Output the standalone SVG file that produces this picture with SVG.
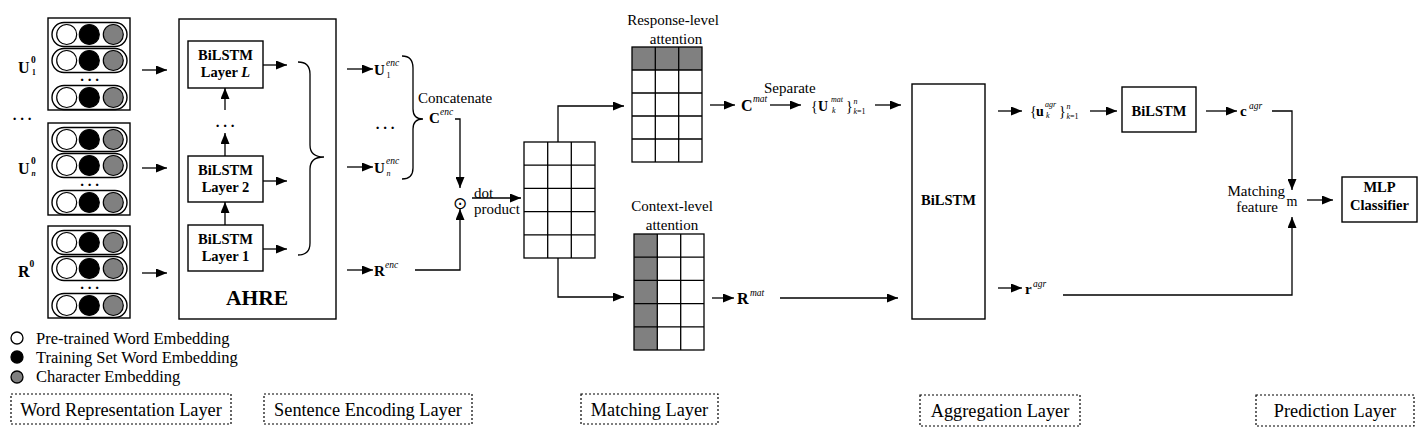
<svg xmlns="http://www.w3.org/2000/svg" width="1426" height="432" viewBox="0 0 1426 432">
<defs>
<marker id="ah" markerUnits="userSpaceOnUse" markerWidth="11" markerHeight="9" refX="11" refY="4.5" orient="auto">
<path d="M0,0 L11,4.5 L0,9 z" fill="#000"/>
</marker>
<g id="pill">
<rect x="-37.5" y="-12" width="75" height="24" rx="12" fill="#fff" stroke="#000" stroke-width="1.4"/>
<circle cx="-22.8" cy="0" r="10" fill="#fff" stroke="#000" stroke-width="1.2"/>
<circle cx="-0.2" cy="0" r="10" fill="#000" stroke="#000" stroke-width="1.2"/>
<circle cx="23.8" cy="0" r="10" fill="#808080" stroke="#000" stroke-width="1.2"/>
</g>
<g id="wblock">
<rect x="0" y="0" width="82" height="92" fill="#fff" stroke="#000" stroke-width="1.4"/>
<use href="#pill" x="41.5" y="16.5"/>
<use href="#pill" x="41.5" y="42.5"/>
<text x="41.5" y="63" class="dots">. . .</text>
<use href="#pill" x="41.5" y="79.5"/>
</g>
</defs>
<style>
text{font-family:"Liberation Serif","Times New Roman",serif;fill:#000}
.t{font-size:15px}
.b{font-size:15px;font-weight:bold}
.bc{font-size:14.5px;font-weight:bold;text-anchor:middle}
.c{text-anchor:middle}
.lg{font-size:16.5px}
.ly{font-size:18.3px;text-anchor:middle}
.dots{font-size:15px;font-weight:bold;text-anchor:middle}
.sup{font-size:9.5px;font-style:italic}
.sub{font-size:8px}
.box{fill:#fff;stroke:#000;stroke-width:1.4}
.ln{fill:none;stroke:#000;stroke-width:1.3}
.ar{fill:none;stroke:#000;stroke-width:1.3;marker-end:url(#ah)}
.grid{fill:none;stroke:#000;stroke-width:1.3}
.dash{fill:none;stroke:#000;stroke-width:1.2;stroke-dasharray:2 2}
</style>
<rect width="1426" height="432" fill="#fff"/>

<!-- Word representation inputs -->
<g id="input-u1">
<use href="#wblock" x="48" y="18"/>
<text x="18" y="73" font-size="16" font-weight="bold">U</text>
<text x="31" y="63" font-size="9.5" font-weight="bold">0</text>
<text x="32" y="75" font-size="7.5" font-weight="bold">1</text>
</g>
<text x="22" y="120" class="dots">. . .</text>
<g id="input-un">
<use href="#wblock" x="48" y="123"/>
<text x="18" y="174" font-size="16" font-weight="bold">U</text>
<text x="31" y="164" font-size="9.5" font-weight="bold">0</text>
<text x="31.5" y="176" font-size="7.5" font-style="italic" font-weight="bold">n</text>
</g>
<g id="input-r">
<use href="#wblock" x="48" y="226"/>
<text x="18" y="277" font-size="16" font-weight="bold">R</text>
<text x="29.5" y="267" font-size="9.5" font-weight="bold">0</text>
</g>

<!-- AHRE -->
<g id="ahre">
<rect class="box" x="179" y="19" width="157" height="300"/>
<text x="257" y="305" font-size="21.5" font-weight="bold" text-anchor="middle">AHRE</text>
</g>
<g id="bilstm-L">
<rect class="box" x="188" y="41" width="75" height="47"/>
<text class="bc" x="225.5" y="60">BiLSTM</text>
<text class="bc" x="225.5" y="77">Layer <tspan font-style="italic">L</tspan></text>
</g>
<g id="bilstm-2">
<rect class="box" x="188" y="156" width="75" height="46"/>
<text class="bc" x="225.5" y="175">BiLSTM</text>
<text class="bc" x="225.5" y="192">Layer 2</text>
</g>
<g id="bilstm-1">
<rect class="box" x="188" y="225" width="75" height="46"/>
<text class="bc" x="225.5" y="244">BiLSTM</text>
<text class="bc" x="225.5" y="261">Layer 1</text>
</g>
<text x="225" y="127" class="dots">. . .</text>

<!-- encoding labels -->
<g id="u1-enc">
<text x="374" y="75" class="b">U</text>
<text x="386" y="66" class="sup">enc</text>
<text x="386.5" y="78" class="sub">1</text>
</g>
<text x="385" y="129" class="dots">. . .</text>
<g id="un-enc">
<text x="374" y="173" class="b">U</text>
<text x="386" y="164" class="sup">enc</text>
<text x="386.5" y="176" class="sub" font-style="italic">n</text>
</g>
<g id="r-enc">
<text x="374" y="276" class="b">R</text>
<text x="385" y="268" class="sup">enc</text>
</g>
<g id="c-enc">
<text x="418" y="103" class="t">Concatenate</text>
<text x="429" y="123" class="b">C</text>
<text x="440" y="115" class="sup">enc</text>
</g>
<g id="dot-product">
<text x="460" y="208.5" font-family="DejaVu Sans" font-size="17" text-anchor="middle" style="font-family:'DejaVu Sans',sans-serif">⊙</text>
<text x="474" y="198" class="t">dot</text>
<text x="474" y="213.5" class="t">product</text>
</g>

<!-- matching matrices -->
<g id="sim-matrix">
<rect class="grid" x="524" y="142" width="71" height="116"/>
<path class="grid" d="M547.7,142V258M571.3,142V258M524,165.2H595M524,188.4H595M524,211.6H595M524,234.8H595"/>
</g>
<g id="response-att">
<text x="673" y="25" class="t c">Response-level</text>
<text x="676" y="44" class="t c">attention</text>
<rect x="632" y="47" width="70" height="23" fill="#808080"/>
<rect class="grid" x="632" y="47" width="70" height="115"/>
<path class="grid" d="M655.3,47V162M678.7,47V162M632,70H702M632,93H702M632,116H702M632,139H702"/>
</g>
<g id="context-att">
<text x="672" y="211" class="t c">Context-level</text>
<text x="672" y="230" class="t c">attention</text>
<rect x="634" y="234" width="23.3" height="116" fill="#808080"/>
<rect class="grid" x="634" y="234" width="70" height="116"/>
<path class="grid" d="M657.3,234V350M680.7,234V350M634,257.2H704M634,280.4H704M634,303.6H704M634,326.8H704"/>
</g>
<g id="c-mat">
<text x="741" y="111" font-size="16" font-weight="bold">C</text>
<text x="753" y="102" class="sup">mat</text>
<text x="764" y="92.5" class="t">Separate</text>
</g>
<g id="u-mat">
<text x="811" y="111" font-size="14">{</text>
<text x="818" y="111" font-size="14" font-weight="bold">U</text>
<text x="831" y="101.5" font-size="8" font-style="italic">mat</text>
<text x="832" y="112.5" font-size="8" font-style="italic">k</text>
<text x="846" y="111" font-size="14">}</text>
<text x="853.5" y="104" font-size="8" font-style="italic">n</text>
<text x="853.5" y="113.5" font-size="8"><tspan font-style="italic">k</tspan>=1</text>
</g>
<g id="r-mat">
<text x="737" y="304" font-size="16" font-weight="bold">R</text>
<text x="750" y="296" class="sup">mat</text>
</g>

<!-- aggregation -->
<g id="bilstm-agg">
<rect class="box" x="912" y="84" width="73" height="235"/>
<text class="bc" x="948.5" y="205">BiLSTM</text>
</g>
<g id="u-agr">
<text x="1030" y="116" font-size="14">{</text>
<text x="1036" y="116" font-size="14" font-weight="bold">u</text>
<text x="1045" y="107" font-size="8" font-style="italic">agr</text>
<text x="1046" y="118" font-size="8" font-style="italic">k</text>
<text x="1059" y="116" font-size="14">}</text>
<text x="1066.5" y="109" font-size="8" font-style="italic">n</text>
<text x="1066.5" y="118.5" font-size="8"><tspan font-style="italic">k</tspan>=1</text>
</g>
<g id="r-agr">
<text x="1025" y="294" font-size="15" font-weight="bold">r</text>
<text x="1033" y="287" class="sup">agr</text>
</g>
<g id="bilstm-c">
<rect class="box" x="1122" y="87" width="74" height="45"/>
<text class="bc" x="1159" y="116">BiLSTM</text>
</g>
<g id="c-agr">
<text x="1240" y="116" font-size="15" font-weight="bold">c</text>
<text x="1249" y="109" class="sup">agr</text>
</g>

<!-- prediction -->
<g id="matching-feature">
<text x="1285" y="196" class="t" text-anchor="end">Matching</text>
<text x="1257" y="211.5" class="t c">feature</text>
<text x="1292" y="206" font-size="14" text-anchor="middle">m</text>
</g>
<g id="mlp">
<rect class="box" x="1342" y="177" width="75" height="45"/>
<text class="bc" x="1379.5" y="192">MLP</text>
<text class="bc" x="1379.5" y="210">Classifier</text>
</g>

<!-- legend -->
<g id="legend">
<circle cx="17" cy="338" r="6" fill="#fff" stroke="#000" stroke-width="1.3"/>
<circle cx="17" cy="357" r="6" fill="#000" stroke="#000" stroke-width="1.3"/>
<circle cx="17" cy="377" r="6" fill="#808080" stroke="#000" stroke-width="1.3"/>
<text x="36" y="343.5" class="lg">Pre-trained Word Embedding</text>
<text x="36" y="362.5" class="lg">Training Set Word Embedding</text>
<text x="36" y="382" class="lg">Character Embedding</text>
</g>

<!-- layer labels -->
<g id="layer-word">
<rect class="dash" x="11" y="394" width="220" height="30"/>
<text class="ly" x="121" y="416">Word Representation Layer</text>
</g>
<g id="layer-sentence">
<rect class="dash" x="264" y="394" width="208" height="30"/>
<text class="ly" x="368" y="416">Sentence Encoding Layer</text>
</g>
<g id="layer-matching">
<rect class="dash" x="581" y="394" width="137" height="30"/>
<text class="ly" x="649.5" y="416">Matching Layer</text>
</g>
<g id="layer-aggregation">
<rect class="dash" x="920" y="395" width="160" height="31"/>
<text class="ly" x="1000" y="417">Aggregation Layer</text>
</g>
<g id="layer-prediction">
<rect class="dash" x="1256" y="395" width="158" height="31"/>
<text class="ly" x="1335" y="417">Prediction Layer</text>
</g>

<!-- connectors -->
<g id="connectors">
<path class="ar" d="M142,70H167"/>
<path class="ar" d="M142,168H167"/>
<path class="ar" d="M142,273H167"/>
<path class="ar" d="M225,225V202"/>
<path class="ar" d="M225,156V133"/>
<path class="ar" d="M225,110V88"/>
<path class="ar" d="M263,65H287"/>
<path class="ar" d="M263,181H287"/>
<path class="ar" d="M263,249H287"/>
<path class="ln" d="M298,62Q310,62 310,74V145Q310,157 324,157Q310,157 310,169V243Q310,255 298,255"/>
<path class="ar" d="M347,69H373"/>
<path class="ar" d="M347,167H373"/>
<path class="ar" d="M347,270H373"/>
<path class="ln" d="M402,56Q413,56 413,68V109Q413,119 423,119Q413,119 413,129V168Q413,179 402,179"/>
<path class="ar" d="M455,119H460V188"/>
<path class="ar" d="M415,270H460V209"/>
<path class="ar" d="M472,198H521"/>
<path class="ar" d="M558,142V106H624"/>
<path class="ar" d="M558,258V297H624"/>
<path class="ar" d="M710,105H735"/>
<path class="ar" d="M770,105H801"/>
<path class="ar" d="M875,105H901"/>
<path class="ar" d="M712,298H734"/>
<path class="ar" d="M780,298H898"/>
<path class="ar" d="M998,111H1022"/>
<path class="ar" d="M1090,111H1117"/>
<path class="ar" d="M1206,111H1237"/>
<path class="ar" d="M1272,111H1292V190"/>
<path class="ar" d="M998,288H1022"/>
<path class="ar" d="M1063,295H1292V217"/>
<path class="ar" d="M1307,200H1333"/>
</g>
</svg>
